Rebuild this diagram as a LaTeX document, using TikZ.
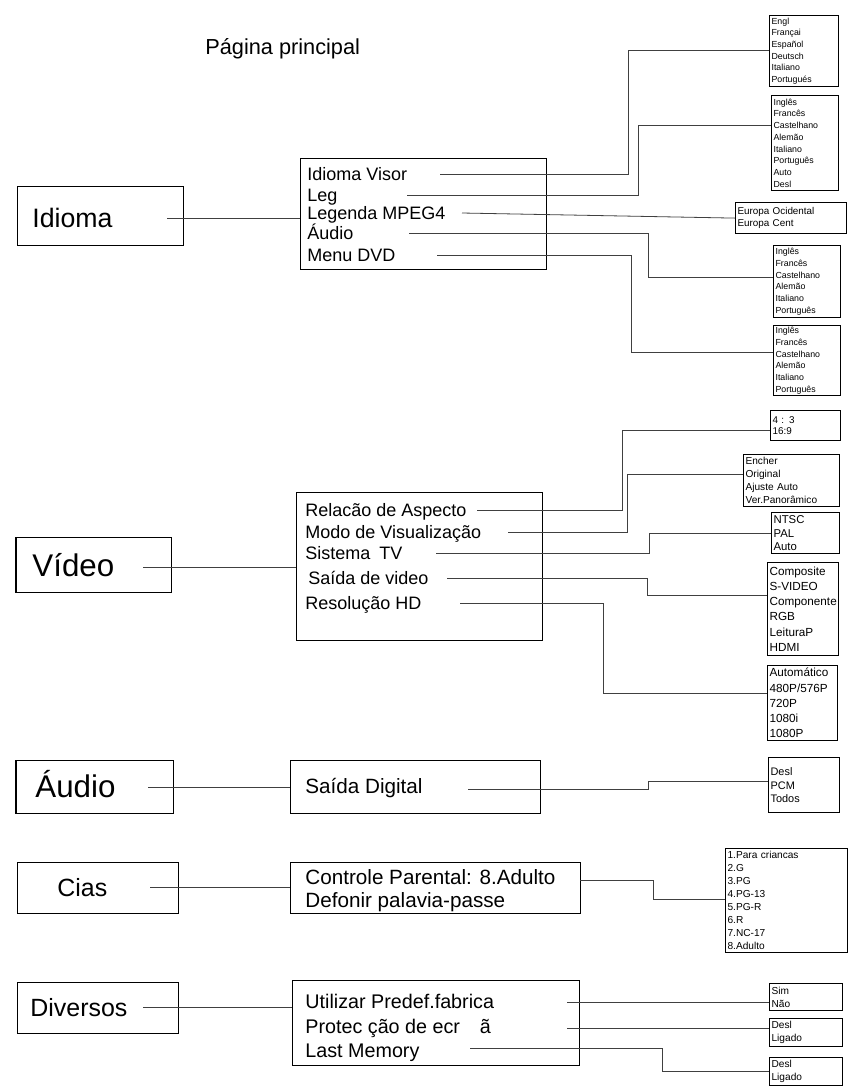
\documentclass[tikz,border=0pt]{standalone}
\usepackage{fontspec}
\setmainfont{Liberation Sans}
\usetikzlibrary{calc}

\begin{document}
\begin{tikzpicture}[x=0.75pt,y=-0.75pt,line width=0.6pt,
  box/.style 2 args={draw,line width=0.9pt,anchor=north west,minimum width=#1*0.75pt,minimum height=#2*0.75pt,inner sep=0pt},
  lst/.style 2 args={draw,line width=0.9pt,anchor=north west,align=left,text width=#1*0.75pt-3pt,minimum height=#2*0.75pt,inner xsep=1.5pt,inner ysep=0pt},
  itm/.style={anchor=base west,inner sep=0pt,font=\fontsize{13.5}{16}\selectfont},
  itmb/.style={anchor=base west,inner sep=0pt,font=\fontsize{15.5}{18}\selectfont},
  big/.style={anchor=base west,inner sep=0pt,font=\fontsize{20}{24}\selectfont},
  bigb/.style={anchor=base west,inner sep=0pt,font=\fontsize{23.5}{27}\selectfont},
  fa/.style={font=\fontsize{6.6}{8.8}\selectfont},
  fe/.style={font=\fontsize{7.4}{8.6}\selectfont},
  fb/.style={font=\fontsize{7.6}{9.8}\selectfont},
  fd/.style={font=\fontsize{8.2}{10.4}\selectfont},
  fc/.style={font=\fontsize{8.8}{11.4}\selectfont},
  wire/.style={draw=black!75}]
\fill[white] (0,0) rectangle (853,1090);
\useasboundingbox (0,0) rectangle (853,1090);

\node[anchor=base west,inner sep=0pt,font=\fontsize{16.3}{19}\selectfont] (title) at (205,54.5) {Página principal};

% main headings
\node[box={166}{59}] (idioma) at (17,186) {};
\node[big] (tIdioma) at (32,227) {Idioma};
\node[box={155}{55}] (video) at (16,537) {};
\node[bigb] (tVideo) at (32,576) {Vídeo};
\node[box={157}{53}] (audio) at (16,760) {};
\node[bigb] (tAudio) at (35,797) {Áudio};
\node[box={161}{51}] (cias) at (17,862) {};
\node[big,font=\fontsize{18.7}{22}\selectfont] (tCias) at (57,896) {Cias};
\node[box={161}{51}] (diversos) at (17,982) {};
\node[big,font=\fontsize{18.7}{22}\selectfont] (tDiversos) at (30,1016) {Diversos};
\draw[line width=2.2pt] (video.north west) -- (video.south west);
\draw[line width=2.2pt] (audio.north west) -- (audio.south west);

% sub menus
\node[box={246}{111}] (midIdioma) at (300,158) {};
\node[itm] (iVisor) at (307,180.5) {Idioma Visor};
\node[itm] (iLeg) at (307,201.5) {Leg};
\node[itm] (iMpeg) at (307,219.5) {Legenda MPEG4};
\node[itm] (iAudio) at (307,239.5) {Áudio};
\node[itm] (iMenu) at (307,261.5) {Menu DVD};

\node[box={246}{148}] (midVideo) at (296,492) {};
\node[itm] (iAspect) at (305,516.5) {Relacão de Aspecto};
\node[itm] (iModo) at (305,538.5) {Modo de Visualização};
\node[itm] (iSist) at (305,559.5) {Sistema\enspace TV};
\node[itm] (iSaida) at (308,584.5) {Saída de video};
\node[itm] (iRes) at (305,609.5) {Resolução HD};

\node[box={250}{53}] (midAudio) at (290,760) {};
\node[itmb] (iDig) at (305,793.5) {Saída Digital};

\node[box={290}{51}] (midCias) at (290,862) {};
\node[itmb] (iPar) at (305,884.5) {Controle Parental: 8.Adulto};
\node[itmb] (iPass) at (305,907.5) {Defonir palavia-passe};

\node[box={287}{85}] (midDiv) at (292,980) {};
\node[itm,font=\fontsize{14.8}{17}\selectfont] (iPredef) at (305,1008) {Utilizar Predef.fabrica};
\node[itm,font=\fontsize{14.8}{17}\selectfont] (iProt) at (305,1033) {Protec ção de ecr\quad ã};
\node[itm,font=\fontsize{14.8}{17}\selectfont] (iMem) at (305,1057) {Last Memory};

% option lists
\node[lst={69}{71},fa] (lVisor) at (769,15) {Engl\\Françai\\Español\\Deutsch\\Italiano\\Portugués};
\node[lst={67}{95},fa] (lLeg) at (771,95) {Inglês\\Francês\\Castelhano\\Alemão\\Italiano\\Português\\Auto\\Desl};
\node[lst={111}{31},fe] (lMpeg) at (735,202) {Europa Ocidental\\Europa Cent};
\node[lst={67}{72},fa] (lAudio) at (773,245) {Inglês\\Francês\\Castelhano\\Alemão\\Italiano\\Português};
\node[lst={67}{70},fa] (lMenu) at (773,325) {Inglês\\Francês\\Castelhano\\Alemão\\Italiano\\Português};

\node[lst={70}{30},font=\fontsize{7.4}{7.6}\selectfont] (lAspect) at (770,410) {4 : 3\\16:9};
\node[lst={96}{52},fb] (lModo) at (743,454) {Encher\\Original\\Ajuste Auto\\Ver.Panorâmico};
\node[lst={68}{41},font=\fontsize{8.5}{10.3}\selectfont] (lSist) at (771,512) {NTSC\\PAL\\Auto};
\node[lst={71}{93},fc] (lSaida) at (767,562) {Composite\\S-VIDEO\\Componente\\RGB\\LeituraP\\HDMI};
\node[lst={70}{75},fc] (lRes) at (767,665) {Automático\\480P/576P\\720P\\1080i\\1080P};

\node[lst={71}{55},fd] (lDig) at (768,757) {Desl\\PCM\\Todos};
\node[lst={122}{104},fb] (lPar) at (725,848) {1.Para criancas\\2.G\\3.PG\\4.PG-13\\5.PG-R\\6.R\\7.NC-17\\8.Adulto};

\node[lst={73}{27},fb] (lPredef) at (769,983) {Sim\\Não};
\node[lst={73}{28},fb] (lProt) at (769,1018) {Desl\\Ligado};
\node[lst={73}{28},fb] (lMem) at (769,1057) {Desl\\Ligado};

% heading to sub menu
\coordinate (b1) at (167,218);
\coordinate (b2) at (143,567);
\coordinate (b3) at (148,787);
\coordinate (b4) at (150,887);
\coordinate (b5) at (143,1007);
\draw[wire] (b1) -- (b1 -| midIdioma.west);
\draw[wire] (b2) -- (b2 -| midVideo.west);
\draw[wire] (b3) -- (b3 -| midAudio.west);
\draw[wire] (b4) -- (b4 -| midCias.west);
\draw[wire] (b5) -- (b5 -| midDiv.west);

% sub menu to options
\coordinate (a1) at (440,174);
\coordinate (a2) at (407,195);
\coordinate (a3) at (462,213);
\coordinate (a4) at (409,233);
\coordinate (a5) at (437,255);
\coordinate (a6) at (477,510);
\coordinate (a7) at (508,532);
\coordinate (a8) at (436,553);
\coordinate (a9) at (447,578);
\coordinate (a10) at (460,603);
\coordinate (a11) at (468,789);
\coordinate (a12) at (580,880);
\coordinate (a13) at (567,1002);
\coordinate (a14) at (567,1028);
\coordinate (a15) at (470,1048);
\draw[wire] (a1) -- ++(188,0) |- ($(lVisor.north west)+(0,35)$);
\draw[wire] (a2) -- ++(231,0) |- ($(lLeg.north west)+(0,30)$);
\draw[wire] (a3) -- (lMpeg.west);
\draw[wire] (a4) -- ++(239,0) |- ($(lAudio.north west)+(0,32)$);
\draw[wire] (a5) -- ++(194,0) |- ($(lMenu.north west)+(0,27)$);
\draw[wire] (a6) -- ++(145,0) |- ($(lAspect.north west)+(0,20)$);
\draw[wire] (a7) -- ++(119,0) |- ($(lModo.north west)+(0,20)$);
\draw[wire] (a8) -- ++(213,0) |- ($(lSist.north west)+(0,21)$);
\draw[wire] (a9) -- ++(200,0) |- ($(lSaida.north west)+(0,33)$);
\draw[wire] (a10) -- ++(143,0) |- ($(lRes.north west)+(0,28)$);
\draw[wire] (a11) -- ++(180,0) |- ($(lDig.north west)+(0,24)$);
\draw[wire] (a12) -- ++(73,0) |- ($(lPar.north west)+(0,51)$);
\draw[wire] (a13) -- (a13 -| lPredef.west);
\draw[wire] (a14) -- (a14 -| lProt.west);
\draw[wire] (a15) -- ++(192,0) |- ($(lMem.north west)+(0,14)$);
\end{tikzpicture}
\end{document}
